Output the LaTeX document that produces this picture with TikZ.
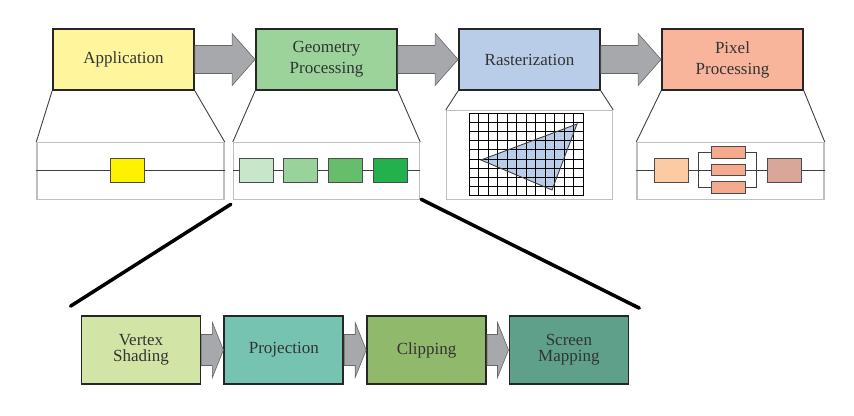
\documentclass[tikz,border=0pt]{standalone}
\usepackage{fontspec}
\setmainfont{Liberation Serif}
\usetikzlibrary{positioning,calc}

\definecolor{appfill}{HTML}{FFF59D}
\definecolor{geofill}{HTML}{9BD39B}
\definecolor{rasfill}{HTML}{B9CDE9}
\definecolor{pixfill}{HTML}{F8B59B}
\definecolor{vsfill}{HTML}{D2E4A6}
\definecolor{projfill}{HTML}{76C3B1}
\definecolor{clipfill}{HTML}{91B96B}
\definecolor{smfill}{HTML}{5FA08B}
\definecolor{geoa}{HTML}{C8E6C9}
\definecolor{geob}{HTML}{99D29A}
\definecolor{geoc}{HTML}{66BD6B}
\definecolor{geod}{HTML}{22B14C}
\definecolor{pixa}{HTML}{FCCBA4}
\definecolor{pixb}{HTML}{F5AA8D}
\definecolor{pixc}{HTML}{D8A799}
\definecolor{arrowfill}{HTML}{A7A8AB}

% block arrow: from, to, shaft half height, head half height, head length
\newcommand\stagearrow[5]{%
  \draw[blockarrow] ($(#1.east)+(0,-#3)$) -- ($(#2.west)+(-#5,-#3)$)
    -- ($(#2.west)+(-#5,-#4)$) -- (#2.west) -- ($(#2.west)+(-#5,#4)$)
    -- ($(#2.west)+(-#5,#3)$) -- ($(#1.east)+(0,#3)$) -- cycle;}

\begin{document}
\begin{tikzpicture}[
  x=1pt, y=-1pt,
  node distance=60.2pt,
  every node/.style={font=\fontsize{17}{21}\selectfont, text=black!80},
  stage/.style={draw=black!85, line width=1.8pt, minimum width=141pt, minimum height=61pt, align=center, inner sep=0pt},
  substage/.style={stage, minimum width=119pt, minimum height=68pt, font=\fontsize{17}{16}\selectfont},
  zoombox/.style={draw=black!25, line width=1.4pt, minimum height=57pt, inner sep=0pt},
  unit/.style={draw=black!70, line width=0.9pt, minimum width=34pt, minimum height=24pt, inner sep=0pt},
  zoomedge/.style={draw=black!75, line width=0.9pt},
  wire/.style={black!75, line width=0.9pt},
  gridline/.style={black, line width=1pt},
  bigline/.style={line width=3.5pt, line cap=round},
  blockarrow/.style={fill=arrowfill, draw=black!60, line width=0.6pt}
]
\useasboundingbox (0,0) rectangle (854,415);

% main pipeline
\node[stage, fill=appfill] (app) at (123.5,59.5) {Application};
\node[stage, fill=geofill, right=of app] (geo) {Geometry\\Processing};
\node[stage, fill=rasfill, right=of geo] (ras) {Rasterization};
\node[stage, fill=pixfill, right=of ras] (pix) {Pixel\\Processing};

\stagearrow{app}{geo}{14}{26}{23}
\stagearrow{geo}{ras}{14}{26}{23}
\stagearrow{ras}{pix}{14}{26}{23}

% zoom panels
\node[zoombox, minimum width=187pt, below=51pt of app, xshift=7pt] (appzoom) {};
\node[zoombox, minimum width=186pt, below=51pt of geo] (geozoom) {};
\node[zoombox, minimum width=166pt, minimum height=89pt, below=19pt of ras] (raszoom) {};
\node[zoombox, minimum width=187pt, below=51pt of pix, xshift=-2pt] (pixzoom) {};

\foreach \s in {app,geo,ras,pix} {
  \draw[zoomedge] (\s.south west) -- (\s zoom.north west);
  \draw[zoomedge] (\s.south east) -- (\s zoom.north east);
}

% application
\node[unit, fill=yellow] (appunit) at (127.5,170) {};
\draw[wire] (appzoom.west |- appunit) -- (appunit.west);
\draw[wire] (appunit.east) -- (appzoom.east |- appunit);

% geometry
\node[unit, fill=geoa] (ga) at (256,170) {};
\node[unit, fill=geob, right=10pt of ga] (gb) {};
\node[unit, fill=geoc, right=10pt of gb] (gc) {};
\node[unit, fill=geod, right=10pt of gc] (gd) {};
\draw[wire] (geozoom.west |- ga) -- (ga.west);
\draw[wire] (ga.east) -- (gb.west) (gb.east) -- (gc.west) (gc.east) -- (gd.west);
\draw[wire] (gd.east) -- (geozoom.east |- gd);

% rasterization
\fill[rasfill] (481,160) -- (577,124) -- (552,190) -- cycle;
\foreach \i in {0,...,12}
  \draw[gridline] (469+\i*9.5,113) -- (469+\i*9.5,196);
\foreach \j in {0,...,9}
  \draw[gridline] (469,113+\j*9.22) -- (583,113+\j*9.22);
\draw[wire] (481,160) -- (577,124) -- (552,190) -- cycle;

% pixel processing
\node[unit, fill=pixa] (pa) at (671,170) {};
\node[unit, fill=pixc] (pc) at (784.5,170) {};
\node[unit, fill=pixb, minimum height=11.5pt] (pb1) at (728,152.5) {};
\node[unit, fill=pixb, minimum height=11.5pt] (pb2) at (728,170) {};
\node[unit, fill=pixb, minimum height=11.5pt] (pb3) at (728,187.5) {};
\draw[wire] (pixzoom.west |- pa) -- (pa.west);
\draw[wire] (pa.east) -- (pb2.west);
\draw[wire] (pb2.east) -- (pc.west);
\draw[wire] (pc.east) -- (pixzoom.east |- pc);
\draw[wire] (pb1.west) -- ++(-12,0) |- (pb3.west);
\draw[wire] (pb1.east) -- ++(11,0) |- (pb3.east);

% geometry sub-stages
\node[substage, fill=vsfill] (vs) at (141,350) {Vertex\\Shading};
\node[substage, fill=projfill, right=22pt of vs] (proj) {Projection};
\node[substage, fill=clipfill, right=22pt of proj] (clip) {Clipping};
\node[substage, fill=smfill, right=21.5pt of clip] (sm) {Screen\\Mapping};

\stagearrow{vs}{proj}{15.5}{27.5}{11}
\stagearrow{proj}{clip}{15.5}{27.5}{11}
\stagearrow{clip}{sm}{15.5}{27.5}{11}

\draw[bigline] ($(geozoom.south west)+(-2,4)$) -- ($(vs.north west)+(-10,-9)$);
\draw[bigline] ($(geozoom.south east)+(1,-1)$) -- ($(sm.north east)+(10,-7)$);
\end{tikzpicture}
\end{document}
